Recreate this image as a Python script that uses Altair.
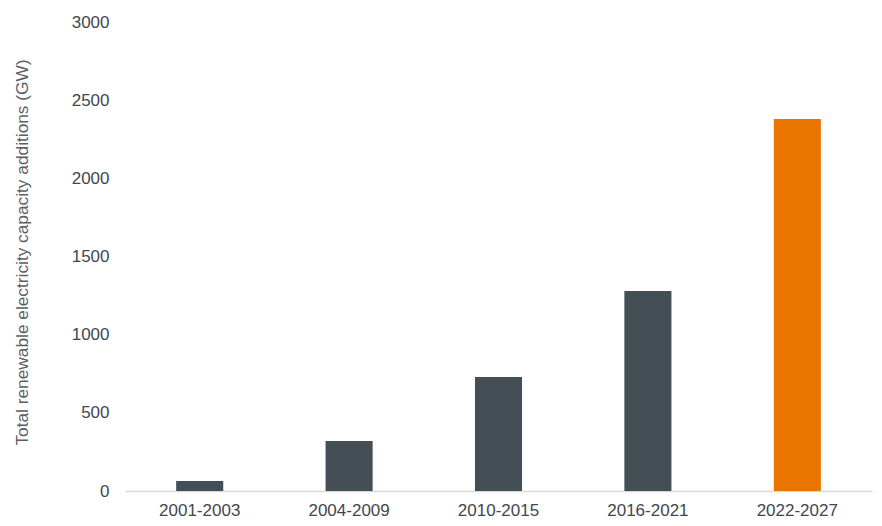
import altair as alt
import pandas as pd

periods = ["2001-2003", "2004-2009", "2010-2015", "2016-2021", "2022-2027"]
values = [64, 320, 729, 1280, 2380]
colors = ["#434e55", "#434e55", "#434e55", "#434e55", "#e97500"]

df = pd.DataFrame({"period": periods, "value": values, "color": colors})

chart = alt.Chart(df).mark_bar().encode(
    x=alt.X("period:N", sort=periods, title=None,
            scale=alt.Scale(paddingInner=0.685, paddingOuter=0.3425),
            axis=alt.Axis(labelAngle=0, ticks=False, domainColor="#d9d9d9", domainWidth=1.3,
                          labelFont="Liberation Sans", labelFontSize=17, labelColor="#41474d",
                          labelPadding=11)),
    y=alt.Y("value:Q", title="Total renewable electricity capacity additions (GW)",
            scale=alt.Scale(domain=[0, 3000], nice=False),
            axis=alt.Axis(values=[0, 500, 1000, 1500, 2000, 2500, 3000], format="d", grid=False,
                          domain=False, ticks=False, labelFont="Liberation Sans", labelFontSize=17,
                          labelColor="#41474d", labelPadding=16,
                          titleFont="Liberation Sans", titleFontSize=17.3, titleFontWeight="normal",
                          titleColor="#5a5f64", titlePadding=40, titleY=230)),
    color=alt.Color("color:N", scale=None, legend=None),
).properties(
    width=747, height=469,
    autosize=alt.AutoSizeParams(type="none"),
    padding={"left": 117, "top": 14, "right": 2, "bottom": 35},
).configure_view(stroke=None)

chart.save("out.html", embed_options={"renderer": "svg", "actions": False})
